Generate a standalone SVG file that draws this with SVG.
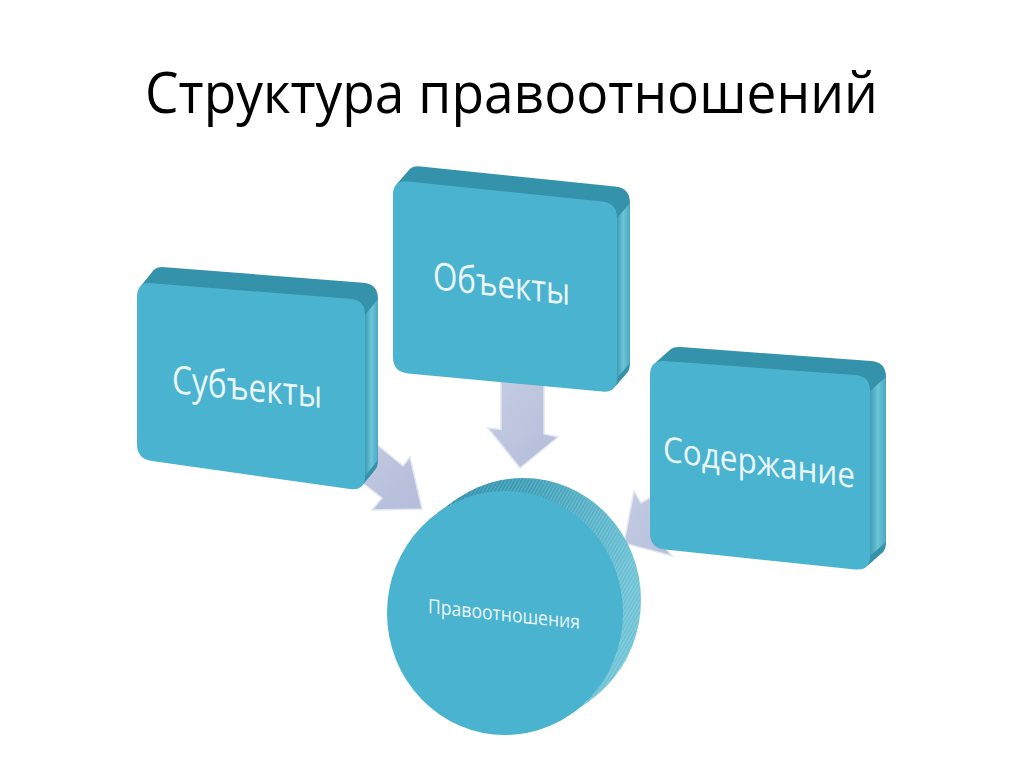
<svg xmlns="http://www.w3.org/2000/svg" xmlns:xlink="http://www.w3.org/1999/xlink" width="1024" height="767" viewBox="0 0 1024 767">
  <style>
    .front { fill: #4ab3cf; }
    .back { fill: #3592ab; }
    .side { fill: url(#sideGrad); }
    .lbl { font-family: "Open Sans", "Noto Sans", "DejaVu Sans", sans-serif; fill: #eaf6fa; }
    .title { font-family: "Open Sans", "Noto Sans", "DejaVu Sans", sans-serif; fill: #000000; font-size: 56px; }
    .arrow { fill: url(#arrowGrad); stroke: #e2e6f1; stroke-width: 1.5; stroke-linejoin: miter; }
  </style>
  <defs>
    <linearGradient id="sideGrad" x1="0" y1="0" x2="1" y2="0">
      <stop offset="0" stop-color="#3f9db6"/>
      <stop offset="0.5" stop-color="#6cc4d8"/>
      <stop offset="1" stop-color="#4aa8c0"/>
    </linearGradient>
    <linearGradient id="arrowGrad" x1="0" y1="0" x2="1" y2="1">
      <stop offset="0" stop-color="#c6cde4"/>
      <stop offset="1" stop-color="#b3bcd9"/>
    </linearGradient>
    <linearGradient id="rimGrad" x1="0" y1="0" x2="1" y2="0.3">
      <stop offset="0" stop-color="#2b87a1"/>
      <stop offset="0.5" stop-color="#3f9fb8"/>
      <stop offset="1" stop-color="#6ec3d6"/>
    </linearGradient>
    <pattern id="rimStripes" patternUnits="userSpaceOnUse" width="3" height="3" patternTransform="rotate(30)">
      <rect width="3" height="3" fill="none"/>
      <rect width="1" height="3" fill="#ffffff" opacity="0.18"/>
    </pattern>
    <path id="lf" d="M137,297 Q137,282 152,283.2 L350,298.8 Q365,300 365,315 L365,476 Q365,491 350,489 L152,461 Q137,459 137,444 Z"/>
    <path id="mf" d="M393,195 Q393,180 408,181.5 L602,201.5 Q617,203 617,218 L617,378 Q617,393 602,391.6 L408,373.4 Q393,372 393,357 Z"/>
    <path id="rf" d="M650,375 Q650,360 665,361.1 L855,374.9 Q870,376 870,391 L870,556 Q870,571 855,569.4 L665,549.6 Q650,548 650,533 Z"/>
  </defs>

  <rect width="1024" height="767" fill="#ffffff"/>

  <text class="title" x="145" y="113" textLength="733" lengthAdjust="spacingAndGlyphs">Структура правоотношений</text>

  <g id="connectors">
    <polygon class="arrow" points="352,424 403,466 410,457 422,509 372,510 382,498 340,465"/>
    <polygon class="arrow" points="501,380 544,380 544,434 558,437 520,468 488,428 501,429.5"/>
    <polygon class="arrow" points="676,483 641,503 634,491 624,543 672,556 656,537 691,517"/>
  </g>

  <g id="node-subjects">
    <use xlink:href="#lf" class="back" transform="translate(13,-16)"/>
    <use xlink:href="#lf" class="back" transform="translate(10.4,-12.8)"/>
    <use xlink:href="#lf" class="back" transform="translate(7.8,-9.6)"/>
    <use xlink:href="#lf" class="back" transform="translate(5.2,-6.4)"/>
    <use xlink:href="#lf" class="back" transform="translate(2.6,-3.2)"/>
    <polygon class="side" points="365,315 378,299 378,460 365,476"/>
    <use xlink:href="#lf" class="front"/>
    <text class="lbl" font-size="39" textLength="150" lengthAdjust="spacingAndGlyphs" transform="translate(172,393) skewY(5.7)">Субъекты</text>
  </g>

  <g id="node-objects">
    <use xlink:href="#mf" class="back" transform="translate(13,-15)"/>
    <use xlink:href="#mf" class="back" transform="translate(10.4,-12)"/>
    <use xlink:href="#mf" class="back" transform="translate(7.8,-9)"/>
    <use xlink:href="#mf" class="back" transform="translate(5.2,-6)"/>
    <use xlink:href="#mf" class="back" transform="translate(2.6,-3)"/>
    <polygon class="side" points="617,218 630,203 630,363 617,378"/>
    <use xlink:href="#mf" class="front"/>
    <text class="lbl" font-size="38" textLength="137" lengthAdjust="spacingAndGlyphs" transform="translate(433,289) skewY(6.7)">Объекты</text>
  </g>

  <g id="node-content">
    <use xlink:href="#rf" class="back" transform="translate(16,-14)"/>
    <use xlink:href="#rf" class="back" transform="translate(12.8,-11.2)"/>
    <use xlink:href="#rf" class="back" transform="translate(9.6,-8.4)"/>
    <use xlink:href="#rf" class="back" transform="translate(6.4,-5.6)"/>
    <use xlink:href="#rf" class="back" transform="translate(3.2,-2.8)"/>
    <polygon class="side" points="870,391 886,377 886,542 870,556"/>
    <use xlink:href="#rf" class="front"/>
    <text class="lbl" font-size="35" textLength="192" lengthAdjust="spacingAndGlyphs" transform="translate(663,461) skewY(8)">Содержание</text>
  </g>

  <g id="node-relations">
    <ellipse cx="523" cy="600" rx="118" ry="122" fill="url(#rimGrad)"/>
    <polygon points="572.7,712.9 590.7,699.9 455.3,500.1 437.3,513.1" fill="url(#rimGrad)"/>
    <ellipse cx="523" cy="600" rx="118" ry="122" fill="url(#rimStripes)"/>
    <polygon points="572.7,712.9 590.7,699.9 455.3,500.1 437.3,513.1" fill="url(#rimStripes)"/>
    <ellipse cx="505" cy="613" rx="118" ry="122" class="front"/>
    <text class="lbl" font-size="20" textLength="152" lengthAdjust="spacingAndGlyphs" transform="translate(428,613) skewY(6)">Правоотношения</text>
  </g>
</svg>
